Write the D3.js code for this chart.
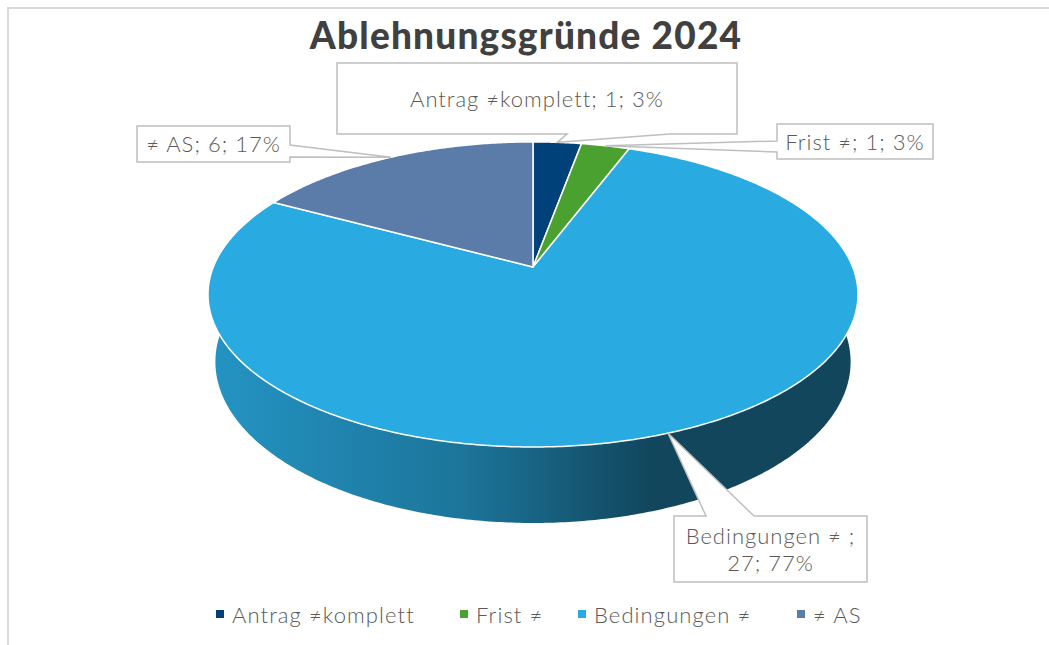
<!DOCTYPE html>
<html>
<head>
<meta charset="utf-8">
<script src="https://cdn.jsdelivr.net/npm/d3@7"></script>
<style>
  body { margin: 0; background: #fff; }
  svg { display: block; }
  text { font-family: Lato, "Noto Sans", sans-serif; fill: #595959; }
</style>
</head>
<body>
<div id="chart"></div>
<script>
// data
var categories = ["Antrag ≠komplett", "Frist ≠", "Bedingungen ≠ ", "≠ AS"];
var values = [1, 1, 27, 6];
var colors = ["#00417a", "#4aa130", "#29abe2", "#5b7ca8"];
var chartTitle = "Ablehnungsgründe 2024";

var width = 1049;
var height = 645;

// perspective settings for the 3d pie (fitted by eye)
var cx = 533, cy = 267;      // projected centre of the top face
var F = 1576, L = 4.93;      // focal length, camera distance (radius = 1)
var elev = 27.5 * Math.PI / 180;
var thick = 0.24;            // pie thickness, in radius units

function project(a, y) {
  // a = pie angle (clockwise from 12 o'clock), y = 0 top face, -thick bottom
  var X = Math.sin(a), Z = -Math.cos(a);
  var depth = L - y * Math.sin(elev) - Z * Math.cos(elev);
  var up = y * Math.cos(elev) - Z * Math.sin(elev);
  return [cx + F * X / depth, cy - F * up / depth];
}

var svg = d3.select("#chart").append("svg")
  .attr("width", width)
  .attr("height", height);

// chart frame (cut by the window on the right and bottom)
svg.append("rect")
  .attr("x", 8).attr("y", 8)
  .attr("width", 1100).attr("height", 700)
  .attr("fill", "none")
  .attr("stroke", "#d9d9d9")
  .attr("stroke-width", 2);

svg.append("text")
  .attr("x", 526).attr("y", 49)
  .attr("text-anchor", "middle")
  .style("font-size", "37px")
  .style("font-weight", "900")
  .style("letter-spacing", "1.2px")
  .style("fill", "#404040")
  .text(chartTitle);

var pie = d3.pie().sort(null).value(d => d)(values);
var total = d3.sum(values);

function arcPoints(a0, a1, y) {
  var n = Math.max(2, Math.ceil((a1 - a0) / 0.01));
  return d3.range(n + 1).map(i => project(a0 + (a1 - a0) * i / n, y));
}

var defs = svg.append("defs");
pie.forEach(function(p, i) {
  var base = d3.color(colors[i]);
  var g = defs.append("linearGradient")
    .attr("id", "side" + i)
    .attr("gradientUnits", "userSpaceOnUse")
    .attr("x1", 208).attr("x2", 858).attr("y1", 0).attr("y2", 0);
  [[0, 0.4], [0.4, 1.1], [0.68, 2.5], [1, 2.5]].forEach(function(s) {
    g.append("stop").attr("offset", s[0]).attr("stop-color", base.darker(s[1]).formatHex());
  });
});

var line = d3.line();

// sides first
svg.append("g").selectAll("path")
  .data(pie)
  .join("path")
  .attr("d", function(p) {
    var top = arcPoints(p.startAngle, p.endAngle, 0);
    var bot = arcPoints(p.startAngle, p.endAngle, -thick).reverse();
    return line(top.concat(bot)) + "Z";
  })
  .attr("fill", (p, i) => "url(#side" + i + ")");

// top faces
svg.append("g").selectAll("path")
  .data(pie)
  .join("path")
  .attr("d", function(p) {
    return line([[cx, cy]].concat(arcPoints(p.startAngle, p.endAngle, 0))) + "Z";
  })
  .attr("fill", (p, i) => colors[i])
  .attr("stroke", "#fff")
  .attr("stroke-width", 1.5)
  .attr("stroke-linejoin", "round");

// data label callouts: box, side of the pointer, pointer base
var callouts = [
  { box: [337, 63, 737, 134], side: "bottom", base: [567, 670], lines: 1 },
  { box: [777, 124, 933, 159], side: "left", base: [141, 152], lines: 1 },
  { box: [674, 516, 867, 582], side: "top", base: [706, 754], lines: 2 },
  { box: [137, 126, 290, 162], side: "right", base: [145, 157], lines: 1 }
];

function calloutPath(c, tip) {
  var x0 = c.box[0], y0 = c.box[1], x1 = c.box[2], y1 = c.box[3];
  var b = c.base, pts = [[x0, y0]];
  if (c.side == "top") pts.push([b[0], y0], tip, [b[1], y0]);
  pts.push([x1, y0]);
  if (c.side == "right") pts.push([x1, b[0]], tip, [x1, b[1]]);
  pts.push([x1, y1]);
  if (c.side == "bottom") pts.push([b[1], y1], tip, [b[0], y1]);
  pts.push([x0, y1]);
  if (c.side == "left") pts.push([x0, b[1]], tip, [x0, b[0]]);
  return line(pts) + "Z";
}

var labels = svg.append("g");
pie.forEach(function(p, i) {
  var c = callouts[i];
  var tip = project((p.startAngle + p.endAngle) / 2, 0);
  labels.append("path")
    .attr("d", calloutPath(c, tip))
    .attr("fill", "#fff")
    .attr("stroke", "#bfbfbf")
    .attr("stroke-width", 1.5);
  var pct = Math.round(values[i] / total * 100) + "%";
  var txt = [categories[i] + "; " + values[i] + "; " + pct];
  if (c.lines == 2) txt = [categories[i] + ";", values[i] + "; " + pct];
  var mx = (c.box[0] + c.box[2]) / 2, my = (c.box[1] + c.box[3]) / 2;
  var t = labels.append("text")
    .attr("text-anchor", "middle")
    .style("font-size", "22px")
    .style("font-weight", "300")
    .style("letter-spacing", "1px");
  txt.forEach(function(s, k) {
    t.append("tspan")
      .attr("x", mx)
      .attr("y", my + 8 + (k - (txt.length - 1) / 2) * 27)
      .text(s);
  });
});

// legend
var legendX = [216, 460, 578, 797];
var legend = svg.append("g");
categories.forEach(function(name, i) {
  legend.append("rect")
    .attr("x", legendX[i]).attr("y", 610)
    .attr("width", 8).attr("height", 8)
    .attr("fill", colors[i]);
  legend.append("text")
    .attr("x", legendX[i] + 16).attr("y", 623)
    .style("font-size", "22px")
    .style("font-weight", "300")
    .style("letter-spacing", "1.1px")
    .text(name.trim());
});
</script>
</body>
</html>
